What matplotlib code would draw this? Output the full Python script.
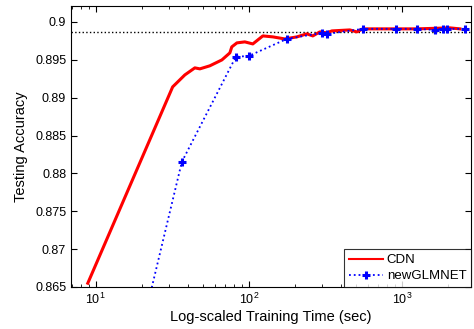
import matplotlib
matplotlib.use('Agg')
import matplotlib.pyplot as plt

plt.rcParams['font.family'] = ['Liberation Sans', 'DejaVu Sans']

# CDN curve
cdn_time = [8.87, 31.8, 38.2, 44.4, 47.9, 55.6, 66.7, 75.2, 77.4, 83.6, 94.2, 106.2,
            123.5, 143.6, 171.9, 206, 239, 262, 291, 323, 349, 457, 508, 556, 927,
            1253, 2060, 2395]
cdn_acc = [0.8655, 0.89142, 0.8930, 0.89393, 0.8938, 0.8942, 0.89498, 0.89591, 0.8967,
           0.89723, 0.89736, 0.89709, 0.89815, 0.89802, 0.89775, 0.89802, 0.89842,
           0.89815, 0.89868, 0.89855, 0.89881, 0.89894, 0.89868, 0.89908, 0.89908,
           0.89908, 0.89921, 0.89908]

# newGLMNET curve
glm_time = [20.3, 36.5, 82.2, 100, 177, 300, 323, 556, 914, 1253, 1644, 1854, 1964, 2582]
glm_acc = [0.860, 0.88151, 0.89538, 0.89551, 0.89775, 0.89855, 0.8984, 0.89908, 0.89908,
           0.89908, 0.89894, 0.89908, 0.89908, 0.89908]

best_acc = 0.89868

fig = plt.figure(figsize=(4.74, 3.29), dpi=100)
ax = fig.add_axes([0.150, 0.1277, 0.8437, 0.8541])

ax.axhline(best_acc, color='black', linestyle=':', linewidth=1.0)
ax.plot(cdn_time, cdn_acc, color='red', linewidth=2.2, label='CDN')
ax.plot(glm_time, glm_acc, color='blue', linestyle=':', linewidth=1.3,
        marker='+', markersize=6, markeredgewidth=2.2, label='newGLMNET')

ax.set_xscale('log')
ax.set_xlim(6.9, 2830)
ax.set_ylim(0.865, 0.9021)
ax.set_yticks([0.865, 0.87, 0.875, 0.88, 0.885, 0.89, 0.895, 0.9])
ax.set_yticklabels(['0.865', '0.87', '0.875', '0.88', '0.885', '0.89', '0.895', '0.9'])

ax.tick_params(which='both', direction='in', top=True, right=True, labelsize=9)
ax.tick_params(which='major', length=4)
ax.tick_params(which='minor', length=2)
for s in ax.spines.values():
    s.set_linewidth(0.8)

ax.set_xlabel('Log-scaled Training Time (sec)', fontsize=10.5, labelpad=2)
ax.set_ylabel('Testing Accuracy', fontsize=10.5, labelpad=5)

leg = ax.legend(loc='lower right', fontsize=9.5, frameon=True, fancybox=False,
                borderaxespad=0.0, handlelength=2.6, handletextpad=0.3,
                borderpad=0.35, labelspacing=0.3)
leg.get_frame().set_edgecolor('black')
leg.get_frame().set_linewidth(0.8)
leg.get_lines()[0].set_linewidth(1.5)

fig.savefig('out.png', dpi=100)
